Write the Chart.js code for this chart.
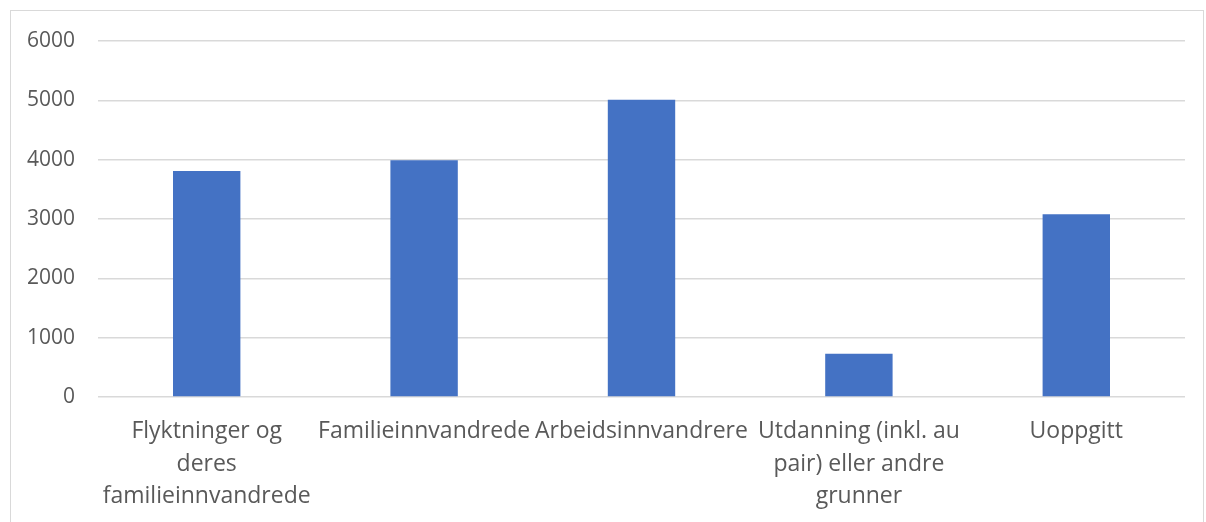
<!DOCTYPE html>
<html>
<head>
<meta charset="utf-8">
<script src="https://cdn.jsdelivr.net/npm/chart.js@4.4.0/dist/chart.umd.min.js"></script>
<style>
  html, body { margin: 0; padding: 0; background: #fff; }
  #wrap { position: relative; width: 1206px; height: 522px; overflow: hidden; }
  #frame { position: absolute; left: 10px; top: 10px; width: 1194px; height: 530px; border: 1.5px solid #d9d9d9; box-sizing: border-box; }
  canvas { position: absolute; left: 0; top: 0; }
</style>
</head>
<body>
<div id="wrap">
  <div id="frame"></div>
  <canvas id="c" width="1206" height="522"></canvas>
</div>
<script>
const categories = [
  ["Flyktninger og", "deres", "familieinnvandrede"],
  "Familieinnvandrede",
  "Arbeidsinnvandrere",
  ["Utdanning (inkl. au", "pair) eller andre", "grunner"],
  "Uoppgitt"
];
const values = [3810, 3990, 5010, 730, 3080];
const yTicks = [0, 1000, 2000, 3000, 4000, 5000, 6000];

const family = "'Open Sans', 'Noto Sans', sans-serif";

new Chart(document.getElementById('c'), {
  type: 'bar',
  data: {
    labels: categories,
    datasets: [{
      data: values,
      backgroundColor: '#4472C4',
      borderWidth: 0,
      categoryPercentage: 1,
      barPercentage: 0.31
    }]
  },
  options: {
    responsive: false,
    animation: false,
    layout: { padding: { top: 41, left: 0, right: 21, bottom: 0 } },
    plugins: { legend: { display: false }, tooltip: { enabled: false } },
    scales: {
      x: {
        grid: { display: false, drawTicks: false },
        border: { display: false },
        ticks: {
          color: '#595959', font: { family, size: 23, lineHeight: 1.42 }, padding: 18,
          maxRotation: 0, minRotation: 0, autoSkip: false
        },
        afterFit(s) { s.height = 125; }
      },
      y: {
        min: 0, max: 6000,
        afterBuildTicks(s) { s.ticks = yTicks.map(v => ({ value: v })); },
        grid: { color: '#d9d9d9', lineWidth: 1.5, drawTicks: false },
        border: { display: false },
        ticks: {
          color: '#595959', font: { family, size: 21 }, padding: 23,
          callback: v => String(v)
        },
        afterFit(s) { s.width = 98; }
      }
    }
  }
});
</script>
</body>
</html>
